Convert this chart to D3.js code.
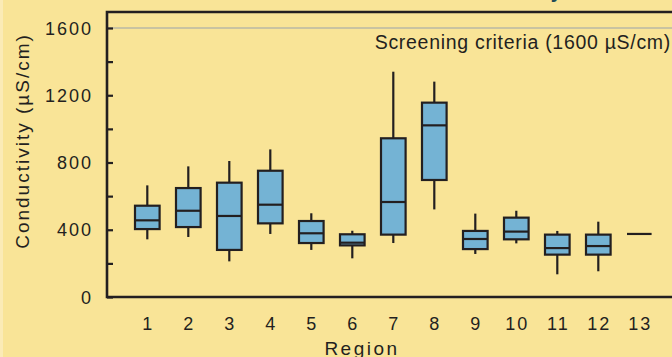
<!DOCTYPE html>
<html>
<head>
<meta charset="utf-8">
<script src="https://cdn.jsdelivr.net/npm/d3@7/dist/d3.min.js"></script>
<style>
  html, body { margin: 0; padding: 0; background: #F9E497; }
  svg { display: block; }
  text { font-family: "Liberation Sans", Arial, sans-serif; fill: #231f20; }
</style>
</head>
<body>
<svg id="chart" width="672" height="357"></svg>
<script>
// Conductivity by region: box-and-whisker summaries (µS/cm)
const regions      = ["1","2","3","4","5","6","7","8","9","10","11","12","13"];
const whiskerLow   = [343, 357, 212, 375, 280, 230, 321, 521, 256, 319, 135, 153, 375];
const quartile1    = [404, 416, 280, 438, 321, 307, 371, 696, 285, 343, 252, 252, 375];
const medians      = [456, 513, 482, 549, 379, 323, 565, 1021, 345, 389, 291, 303, 375];
const quartile3    = [543, 648, 680, 751, 452, 373, 944, 1156, 393, 472, 371, 371, 375];
const whiskerHigh  = [664, 777, 809, 878, 498, 394, 1340, 1281, 496, 513, 393, 448, 375];
const majorTicks   = [0, 400, 800, 1200, 1600];
const minorTicks   = [200, 600, 1000, 1400];
const criterion    = 1600;

(function draw() {
  const W = 672, H = 357;
  const plotLeft = 107, plotTop = 12, plotBottom = 297, plotRight = 690;
  const svg = d3.select("#chart");

  const y = d3.scaleLinear().domain([0, 1600]).range([plotBottom, 28]);
  const x = d3.scaleBand().domain(regions).range([126.8, 659.8]).paddingInner(0.4).paddingOuter(0.2);

  const boxes = regions.map((r, i) => ({
    r, lo: whiskerLow[i], q1: quartile1[i], med: medians[i], q3: quartile3[i], hi: whiskerHigh[i]
  }));

  // background and thin light strip on the left edge
  svg.append("rect").attr("width", W).attr("height", H).attr("fill", "#F9E497");
  svg.append("rect").attr("width", 3).attr("height", H).attr("fill", "#FBEBB6");

  // title (sits above the visible area)
  svg.append("text").attr("x", 562).attr("y", -2).attr("text-anchor", "end")
    .style("font-weight", "bold").style("font-size", "20px").style("fill", "#1d4a57")
    .text("Conductivity");

  // screening criterion line
  svg.append("line").attr("x1", plotLeft).attr("x2", plotRight)
    .attr("y1", y(criterion)).attr("y2", y(criterion))
    .attr("stroke", "#9aa2ab").attr("stroke-width", 1.2);
  svg.append("text").attr("x", 671).attr("y", 48.5).attr("text-anchor", "end")
    .style("font-size", "19.5px").style("letter-spacing", "0.7px")
    .text("Screening criteria (1600 µS/cm)");

  // frame
  svg.append("path")
    .attr("d", `M${plotRight},${plotTop}H${plotLeft}V${plotBottom}H${plotRight}`)
    .attr("stroke", "#231f20").attr("stroke-width", 2.6).attr("fill", "none");

  // y axis ticks pointing inward
  [majorTicks, minorTicks].forEach(vals => {
    const a = svg.append("g").attr("transform", `translate(${plotLeft},0)`)
      .call(d3.axisRight(y).tickValues(vals).tickSize(6).tickFormat(""));
    a.select(".domain").remove();
    a.selectAll(".tick line").attr("stroke", "#231f20").attr("stroke-width", 2.2);
  });

  // y tick labels
  svg.append("g").selectAll("text").data(majorTicks).join("text")
    .attr("x", 93).attr("y", d => y(d) + 6.5).attr("text-anchor", "end")
    .style("font-size", "18px").style("letter-spacing", "2px")
    .text(d => d);

  // y title
  svg.append("text")
    .attr("transform", "translate(29,141) rotate(-90)")
    .attr("text-anchor", "middle")
    .style("font-size", "19px").style("letter-spacing", "2px")
    .text("Conductivity (µS/cm)");

  // x tick labels
  svg.append("g").selectAll("text").data(regions).join("text")
    .attr("x", d => x(d) + x.bandwidth() / 2 + 1).attr("y", 329.5).attr("text-anchor", "middle")
    .style("font-size", "18px").style("letter-spacing", "2px")
    .text(d => d);

  svg.append("text").attr("x", 362).attr("y", 354.5).attr("text-anchor", "middle")
    .style("font-size", "19px").style("letter-spacing", "2.5px")
    .text("Region");

  // boxes
  const g = svg.append("g").attr("stroke", "#231f20").attr("stroke-width", 2.2);
  const bw = x.bandwidth();
  const cx = d => x(d.r) + bw / 2;

  g.selectAll(".whisker").data(boxes).join("line").attr("class", "whisker")
    .attr("x1", cx).attr("x2", cx)
    .attr("y1", d => y(d.lo)).attr("y2", d => y(d.hi));

  g.selectAll(".box").data(boxes.filter(d => d.q3 > d.q1)).join("rect").attr("class", "box")
    .attr("x", d => x(d.r)).attr("width", bw)
    .attr("y", d => y(d.q3)).attr("height", d => y(d.q1) - y(d.q3))
    .attr("fill", "#74B3D4");

  g.selectAll(".median").data(boxes).join("line").attr("class", "median")
    .attr("x1", d => x(d.r)).attr("x2", d => x(d.r) + bw)
    .attr("y1", d => y(d.med)).attr("y2", d => y(d.med));
})();
</script>
</body>
</html>
